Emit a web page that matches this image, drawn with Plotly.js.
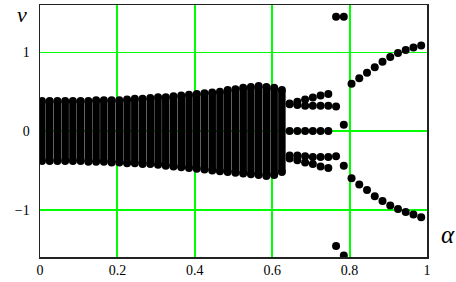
<!DOCTYPE html>
<html>
<head>
<meta charset="utf-8">
<script src="https://cdn.plot.ly/plotly-3.0.1.min.js"></script>
<style>html,body{margin:0;padding:0;background:#fff;}#chart{width:456px;height:282px;}</style>
</head>
<body>
<div id="chart"></div>
<script>
// ---- data ----
// dense (chaotic) band: each alpha column is filled with iterates between a lowest and a highest nu
const alphaDense = [0.005,0.025,0.045,0.065,0.085,0.105,0.125,0.145,0.165,0.185,0.205,0.225,0.245,0.265,0.285,0.305,
                    0.325,0.345,0.365,0.385,0.405,0.425,0.445,0.465,0.485,0.505,0.525,0.545,0.565,0.585,0.605,0.625];
const nuDenseTop = [0.38,0.38,0.38,0.38,0.38,0.38,0.38,0.39,0.39,0.39,0.39,0.40,0.41,0.41,0.42,0.43,
                    0.43,0.44,0.45,0.46,0.47,0.48,0.49,0.50,0.52,0.53,0.55,0.56,0.57,0.56,0.55,0.52];
const nuDenseBot = [-0.38,-0.38,-0.38,-0.38,-0.38,-0.38,-0.39,-0.39,-0.39,-0.40,-0.40,-0.41,-0.41,-0.42,-0.42,-0.43,
                    -0.44,-0.45,-0.46,-0.47,-0.48,-0.49,-0.50,-0.51,-0.52,-0.53,-0.54,-0.55,-0.56,-0.57,-0.56,-0.52];

// periodic branches after the band
const alphaMid6 = [0.645,0.665,0.685,0.705,0.725,0.745];
const alphaMid7 = [0.645,0.665,0.685,0.705,0.725,0.745,0.765];
const nuMidA = [0.35,0.37,0.40,0.425,0.45,0.47];
const nuMidB = [0.34,0.33,0.32,0.32,0.32,0.32,0.31];
const nuMidC = [0,0,0,0,0,0];
const nuMidD = [-0.31,-0.31,-0.32,-0.33,-0.33,-0.33,-0.32];
const nuMidE = [-0.35,-0.37,-0.40,-0.42,-0.45,-0.47];

// isolated points near alpha = 0.78
const alphaIso = [0.765,0.785,0.785,0.785,0.765,0.785];
const nuIso    = [1.45,1.45,0.08,-0.44,-1.46,-1.58];

// right branches
const alphaRight = [0.805,0.825,0.845,0.865,0.885,0.905,0.925,0.945,0.965,0.985];
const nuRightUp  = [0.60,0.67,0.74,0.81,0.88,0.94,0.99,1.03,1.06,1.085];
const nuRightLo  = [-0.60,-0.68,-0.75,-0.83,-0.89,-0.945,-0.99,-1.03,-1.06,-1.095];

const xTicks = [0,0.2,0.4,0.6,0.8,1];
const yTicks = [-1,0,1];

// ---- build traces ----
// dense columns: a vertical run of overlapping dots from bottom to top of each column
const bandX = [], bandY = [], endX = [], endY = [];
alphaDense.forEach((a,i)=>{
  bandX.push(a, a, null); bandY.push(nuDenseBot[i], nuDenseTop[i], null);
  endX.push(a, a); endY.push(nuDenseBot[i], nuDenseTop[i]);
});

const mk = {color:'#000', size:8, line:{width:0}};
function pts(x,y){ return {x:x, y:y, type:'scatter', mode:'markers', marker:mk, hoverinfo:'skip', showlegend:false}; }

const traces = [
  {x:bandX, y:bandY, type:'scatter', mode:'lines', line:{color:'#000', width:7.5}, connectgaps:false, hoverinfo:'skip', showlegend:false},
  pts(endX,endY),
  pts(alphaMid6,nuMidA), pts(alphaMid7,nuMidB), pts(alphaMid6,nuMidC),
  pts(alphaMid7,nuMidD), pts(alphaMid6,nuMidE),
  pts(alphaIso,nuIso),
  pts(alphaRight,nuRightUp), pts(alphaRight,nuRightLo)
];

const serif = '"Liberation Serif", "Times New Roman", serif';
const tickFont = {family:serif, size:14, color:'#000'};
const layout = {
  width:456, height:282,
  margin:{l:40, r:29, t:5, b:25, pad:0},
  paper_bgcolor:'#fff', plot_bgcolor:'#fff',
  showlegend:false,
  xaxis:{range:[0,1], tickmode:'array', tickvals:xTicks, ticks:'', showgrid:true, gridcolor:'#00ff00', gridwidth:2,
         zeroline:false, showline:true, linecolor:'#222', linewidth:1.5, mirror:true, tickfont:tickFont, fixedrange:true},
  yaxis:{range:[-1.6,1.6], tickmode:'array', tickvals:yTicks, ticks:'', showgrid:true, gridcolor:'#00ff00', gridwidth:1.5,
         zeroline:false, showline:true, linecolor:'#222', linewidth:1.5, mirror:true, tickfont:tickFont, fixedrange:true,
         ticklabelstandoff:6},
  annotations:[
    {text:'<i>ν</i>', xref:'paper', yref:'paper', x:-0.047, y:1.0198, xanchor:'center', yanchor:'top', showarrow:false,
     font:{family:serif, size:22, color:'#000'}},
    {text:'<i>α</i>', xref:'paper', yref:'paper', x:1.054, y:0.09, xanchor:'center', yanchor:'middle', showarrow:false,
     font:{family:serif, size:25, color:'#000'}}
  ]
};
Plotly.newPlot('chart', traces, layout, {staticPlot:true, displayModeBar:false});
</script>
</body>
</html>
